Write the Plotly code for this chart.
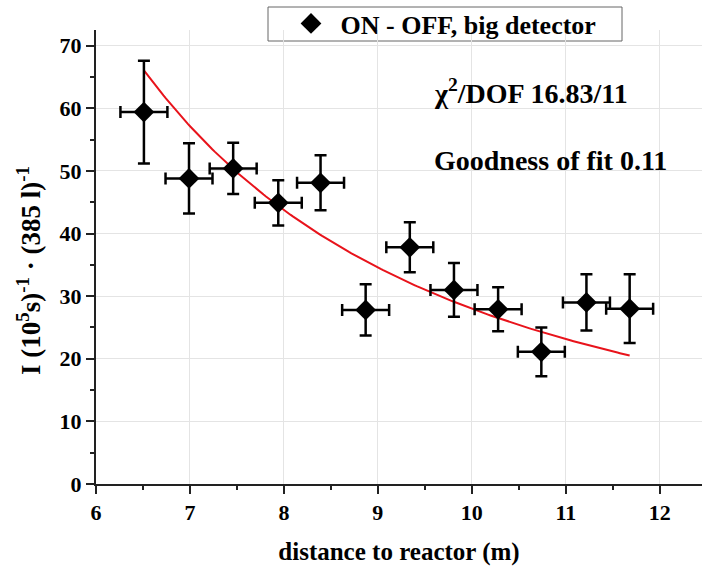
import numpy as np
import plotly.graph_objects as go

# Measured ON - OFF rate versus distance to the reactor core
distance_m = [6.51, 6.99, 7.46, 7.94, 8.39, 8.87, 9.34, 9.81, 10.28, 10.74, 11.22, 11.68]
distance_err = [0.25] * 12
rate = [59.4, 48.8, 50.4, 44.9, 48.1, 27.8, 37.8, 31.0, 27.9, 21.1, 29.0, 28.0]
rate_err = [8.2, 5.6, 4.1, 3.6, 4.4, 4.1, 4.0, 4.3, 3.5, 3.9, 4.5, 5.5]

# 1/r^2 fit: I(r) = A / r^2
fit_amplitude = 2800.0
fit_range = [6.51, 11.68]

x_ticks = [6, 7, 8, 9, 10, 11, 12]
y_ticks = [0, 10, 20, 30, 40, 50, 60, 70]

FONT = "Liberation Serif"
AXIS = "#222222"

# plot area in pixels (used to place paper-referenced labels)
L, R, T, B = 96, 0, 30, 85
W, H = 702, 569
PW, PH = W - L - R, H - T - B


def px(xp):
    return (xp - L) / PW


def py(yp):
    return (H - B - yp) / PH


r_fit = np.linspace(fit_range[0], fit_range[1], 200)
i_fit = fit_amplitude / r_fit ** 2

fig = go.Figure()

fig.add_trace(go.Scatter(
    x=r_fit, y=i_fit, mode="lines",
    line=dict(color="#e8131b", width=2),
    showlegend=False, hoverinfo="skip",
))

fig.add_trace(go.Scatter(
    x=distance_m, y=rate, mode="markers",
    name="ON - OFF, big detector",
    marker=dict(symbol="diamond", size=16, color="black"),
    error_x=dict(type="data", array=distance_err, color="black", thickness=2.5, width=6),
    error_y=dict(type="data", array=rate_err, color="black", thickness=2.5, width=6),
))

axis_common = dict(
    showline=True, linecolor=AXIS, linewidth=2,
    ticks="outside", ticklen=8, tickwidth=2, tickcolor=AXIS,
    showgrid=True, gridcolor="#e4e4e4", gridwidth=1,
    zeroline=False,
    tickfont=dict(family=FONT, size=22, weight="bold"),
)

fig.update_layout(
    width=W, height=H,
    margin=dict(l=L, r=R, t=T, b=B),
    paper_bgcolor="white", plot_bgcolor="white",
    font=dict(family=FONT, size=22, color="black", weight="bold"),
    legend=dict(
        x=px(281.5), y=py(0), xanchor="left", yanchor="top",
        borderwidth=0, bgcolor="rgba(0,0,0,0)",
        font=dict(family=FONT, size=26, color="black", weight="bold"),
        itemwidth=49,
    ),
    xaxis=dict(
        range=[6, 12.45], tickvals=x_ticks,
        minor=dict(dtick=0.5, ticks="outside", ticklen=4, tickwidth=2, tickcolor=AXIS, showgrid=False),
        title=dict(text="distance to reactor (m)", standoff=18,
                   font=dict(family=FONT, size=25, weight="bold")),
        **axis_common,
    ),
    yaxis=dict(
        range=[0, 72.5], tickvals=y_ticks,
        minor=dict(dtick=5, ticks="outside", ticklen=4, tickwidth=2, tickcolor=AXIS, showgrid=False),
        **axis_common,
    ),
)

# legend frame
fig.add_shape(
    type="rect", xref="paper", yref="paper",
    x0=px(268), x1=px(622), y0=py(41), y1=py(7),
    line=dict(color="#666666", width=1), fillcolor="white", layer="below",
)

# y-axis title
fig.add_annotation(
    x=px(29), y=py(271), xref="paper", yref="paper",
    xanchor="center", yanchor="middle", showarrow=False, textangle=-90,
    text="I (10<sup>5</sup>s)<sup>-1</sup> · (385 l)<sup>-1</sup>",
    font=dict(family=FONT, size=27, weight="bold", color="black"),
)

# fit statistics
fig.add_annotation(
    x=px(432), y=py(91), xref="paper", yref="paper",
    xanchor="left", yanchor="middle", showarrow=False,
    text="χ<sup>2</sup>/DOF 16.83/11",
    font=dict(family=FONT, size=28, weight="bold", color="black"),
)
fig.add_annotation(
    x=px(432), y=py(160), xref="paper", yref="paper",
    xanchor="left", yanchor="middle", showarrow=False,
    text="Goodness of fit 0.11",
    font=dict(family=FONT, size=28, weight="bold", color="black"),
)

fig.write_html("out.html")
